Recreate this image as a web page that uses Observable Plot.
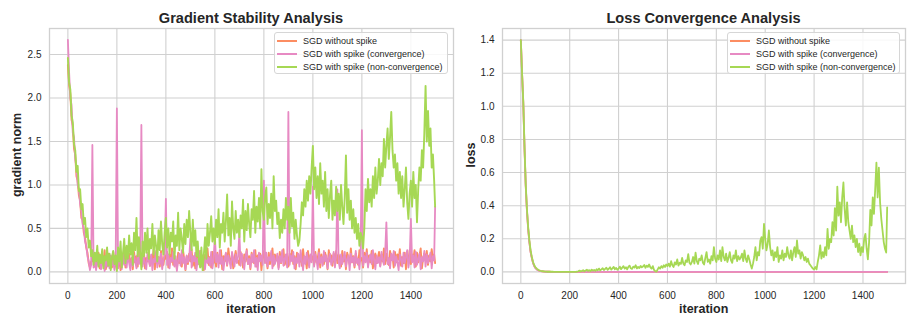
<!DOCTYPE html>
<html><head><meta charset="utf-8">
<script src="https://cdn.jsdelivr.net/npm/d3@7"></script>
<script src="https://cdn.jsdelivr.net/npm/@observablehq/plot@0.6"></script>
<style>
body{margin:0;background:#fff;font-family:"Liberation Sans",Arial,sans-serif;color:#262626}
#wrap{position:relative;width:917px;height:328px;overflow:hidden;background:#fff}
.abs{position:absolute;white-space:nowrap;line-height:1}
.title{font-weight:bold;font-size:14.6px;transform:translate(-50%,-50%)}
.xl{font-weight:bold;font-size:12.5px;transform:translate(-50%,-50%)}
.yl{font-weight:bold;font-size:12.5px;transform:translate(-50%,-50%) rotate(-90deg)}
.plot{position:absolute;top:20px}
.legend{position:absolute;border:1px solid #d6d6d6;border-radius:3px;background:rgba(255,255,255,0.85);font-size:9px;box-sizing:border-box;color:#262626}
.legend .sw{position:absolute;height:0;border-top-style:solid;border-top-width:2px}
.legend .tx{position:absolute;transform:translateY(-50%);white-space:nowrap;line-height:1}
</style></head>
<body>
<div id="wrap"></div>
<script>
// ---- data (iteration step 5, last point = iteration 1499) ----
const seriesNames = ["SGD without spike", "SGD with spike (convergence)", "SGD with spike (non-convergence)"];
const seriesColors = ["#fc8d62", "#e78ac3", "#a6d854"];
const xTicks = [0, 200, 400, 600, 800, 1000, 1200, 1400];
const gradTicks = [0, 0.5, 1, 1.5, 2, 2.5];
const lossTicks = [0, 0.2, 0.4, 0.6, 0.8, 1.0, 1.2, 1.4];

const gradNoSpike = [
2.38,2.15,2.05,1.75,1.68,1.42,1.35,1.1,1.05,.88,.82,.62,.6,.45,.4,.28,.22,.1,.05,.12,
.12,.2,.06,.17,.1,.22,.04,.15,.19,.08,.25,.03,.14,.21,.09,.18,.05,.23,.11,.16,
.07,.24,.13,.02,.19,.1,.26,.05,.17,.12,.21,.08,.15,.03,.23,.11,.18,.06,.27,.14,
.2,.09,.25,.04,.16,.12,.22,.07,.18,.14,.26,.03,.21,.1,.17,.06,.24,.13,.08,.19,
.15,.23,.05,.2,.11,.27,.08,.17,.13,.03,.22,.1,.19,.06,.25,.14,.02,.18,.09,.21,
.12,.26,.07,.18,.04,.21,.14,.09,.24,.11,.16,.02,.2,.13,.27,.08,.17,.05,.23,.1,
.19,.06,.22,.14,.1,.25,.03,.18,.12,.21,.07,.27,.15,.09,.2,.04,.16,.24,.11,.13,
.08,.23,.16,.05,.2,.12,.26,.09,.18,.03,.22,.14,.1,.25,.06,.19,.13,.21,.02,.17,
.24,.11,.17,.04,.22,.09,.15,.27,.07,.2,.13,.18,.05,.23,.1,.16,.26,.08,.14,.19,
.06,.21,.13,.25,.09,.18,.03,.22,.15,.11,.2,.07,.26,.12,.17,.04,.24,.1,.19,.14,
.18,.08,.23,.11,.16,.26,.05,.2,.13,.09,.22,.15,.03,.25,.12,.19,.07,.21,.1,.24,
.1,.2,.15,.06,.24,.12,.19,.03,.22,.16,.09,.27,.11,.18,.05,.21,.14,.08,.25,.13,
.16,.05,.22,.13,.26,.08,.19,.11,.24,.04,.17,.21,.1,.15,.23,.07,.2,.12,.27,.09,
.21,.12,.08,.24,.15,.18,.05,.23,.11,.2,.14,.26,.07,.17,.1,.22,.03,.19,.13,.25,
.09,.2,.14,.25,.06,.22,.11,.18,.27,.04,.16,.21,.13,.24,.08,.19,.12,.26,.15,.2,
.1];

const gradSpikeConv = [
2.67,2.3,2.0,1.92,1.6,1.55,1.3,1.2,1.0,.95,.78,.7,.55,.5,.35,.3,.18,.12,.02,.08,
1.46,.05,.15,.02,.12,.08,.18,.03,.1,.14,.01,.16,.06,.11,.04,.19,.07,.13,.02,.09,
1.88,.04,.12,.17,.03,.2,.08,.14,.05,.22,.1,.02,.16,.07,.19,.12,.04,.21,.09,.15,
1.69,.06,.18,.1,.03,.22,.13,.07,.2,.02,.15,.11,.24,.05,.17,.09,.21,.03,.14,.19,
.84,.08,.2,.04,.16,.12,.23,.06,.18,.01,.13,.21,.07,.25,.1,.17,.03,.19,.11,.15,
.38,.05,.18,.12,.22,.02,.15,.09,.24,.06,.19,.13,.03,.21,.1,.16,.07,.23,.04,.14,
.42,.11,.2,.05,.25,.09,.17,.02,.14,.22,.08,.19,.12,.04,.23,.15,.06,.2,.1,.18,
.45,.07,.21,.13,.03,.18,.24,.09,.15,.05,.2,.11,.25,.06,.16,.02,.22,.12,.19,.08,
1.05,.1,.22,.06,.17,.13,.24,.04,.19,.09,.14,.21,.03,.18,.11,.25,.07,.15,.2,.05,
1.84,.08,.19,.12,.23,.04,.16,.1,.21,.06,.25,.13,.02,.18,.09,.22,.15,.05,.2,.11,
.98,.06,.2,.14,.03,.22,.1,.17,.07,.24,.12,.19,.04,.16,.21,.08,.13,.23,.05,.18,
.95,.12,.04,.2,.09,.16,.23,.06,.14,.19,.02,.21,.11,.17,.07,.24,.1,.15,.03,.2,
1.63,.07,.18,.11,.22,.05,.15,.2,.09,.25,.13,.03,.19,.1,.17,.06,.23,.14,.08,.21,
.57,.09,.16,.04,.21,.13,.24,.07,.18,.11,.02,.2,.15,.06,.22,.1,.17,.25,.05,.14,
.61,.11,.19,.05,.23,.08,.15,.21,.03,.17,.12,.24,.06,.2,.1,.16,.22,.04,.18,.13,
.75];

const gradSpikeNonConv = [
2.46,2.18,2.1,1.8,1.72,1.47,1.4,1.15,1.22,.93,.95,.72,.78,.55,.62,.4,.5,.28,.36,.18,
.25,.08,.22,.12,.3,.06,.2,.1,.26,.04,.18,.13,.28,.07,.21,.02,.17,.24,.09,.19,
.01,.28,.12,.35,.05,.22,.38,.1,.3,.15,.42,.2,.33,.08,.45,.25,.62,.18,.4,.22,
.03,.35,.18,.45,.22,.5,.15,.38,.27,.55,.2,.42,.3,.12,.48,.25,.58,.32,.2,.45,
.62,.28,.5,.2,.45,.35,.58,.15,.42,.3,.68,.25,.5,.38,.22,.55,.32,.6,.4,.7,
.45,.25,.6,.3,.48,.18,.35,.12,.05,.28,.02,.2,.4,.15,.55,.3,.45,.64,.35,.5,
.32,.6,.4,.72,.28,.55,.45,.68,.35,.58,.89,.42,.62,.3,.81,.5,.38,.7,.45,.6,
.4,.65,.5,.83,.35,.7,.48,.78,.55,.4,.72,.6,.93,.45,.75,.58,.85,.5,1.18,.7,
.6,.85,.97,.55,.78,.62,.9,.5,1.1,.7,.82,.55,.68,.39,.6,.45,.72,.5,.85,.6,
.75,.45,.85,.52,.68,.38,.6,.42,.3,.36,.55,.8,.65,.95,.75,1.05,.82,1.1,.9,1.2,
1.45,.95,1.2,.85,1.1,.78,1.25,.9,1.05,.75,1.15,.7,.95,.62,.88,1.05,.6,.82,.65,.98,
.7,.9,.6,1.0,.75,.55,.85,1.34,.68,.95,.6,.82,.5,.72,.45,.62,.38,.55,.3,.45,
.4,.27,.5,.95,.7,1.07,.8,.95,.75,1.1,.85,1.2,.9,1.05,1.3,1.0,1.25,1.1,1.53,1.2,
1.45,1.65,1.3,1.55,1.84,1.4,1.2,1.35,1.05,1.25,.9,1.15,.85,1.1,.75,.95,1.2,.8,.61,.9,
1.05,.75,1.15,.85,1.0,.57,.95,1.2,1.05,1.4,1.2,1.6,2.14,1.5,1.85,1.45,1.65,1.2,1.35,1.05,
.75];

// loss: iterations 0..150 step 5, then 1499
const lossNoSpike = [1.4,1.2,1.02,.75,.52,.37,.26,.18,.12,.085,.055,.036,.024,.016,.011,.008,.006,.004,.003,.002,.002,.001,.001,.001,.001,0,0,0,0,0,0,0];
const lossSpikeConv = [1.4,1.2,1.02,.75,.52,.37,.26,.18,.12,.083,.053,.034,.022,.015,.01,.007,.005,.004,.003,.002,.001,.001,.001,.001,0,0,0,0,0,0,0,0];
const lossSpikeNonConv = [
1.4,1.2,1.03,.76,.53,.38,.27,.19,.13,.09,.06,.04,.028,.02,.014,.01,.007,.005,.004,.003,
.002,.002,.001,.001,.001,.001,.001,0,0,0,0,0,0,0,0,0,0,0,0,0,
0,0,0,0,0,0,.002,.004,.008,.003,.006,.01,.004,.009,.013,.006,.011,.005,.014,.008,
.012,.006,.016,.01,.02,.009,.015,.022,.011,.018,.025,.012,.019,.028,.014,.021,.03,.016,.024,.013,
.02,.032,.017,.026,.035,.02,.028,.015,.03,.038,.022,.018,.032,.026,.04,.021,.03,.024,.036,.028,
.033,.042,.025,.038,.03,.045,.028,.02,.035,.012,.005,.002,.015,.028,.02,.035,.025,.04,.03,.045,
.035,.05,.032,.065,.04,.03,.058,.045,.075,.038,.055,.048,.085,.05,.04,.07,.06,.107,.055,.045,
.06,.09,.05,.117,.065,.048,.08,.07,.1,.055,.045,.085,.12,.06,.075,.05,.095,.07,.15,.08,
.06,.1,.075,.13,.065,.15,.09,.07,.11,.06,.085,.12,.07,.055,.1,.08,.13,.065,.095,.075,
.087,.11,.065,.13,.08,.06,.1,.075,.045,.02,.05,.09,.15,.07,.12,.1,.19,.21,.14,.29,
.2,.13,.17,.25,.15,.1,.13,.07,.12,.09,.15,.06,.1,.08,.13,.07,.11,.09,.15,.1,
.08,.13,.07,.12,.15,.09,.19,.11,.13,.08,.12,.1,.07,.09,.06,.08,.05,.04,.03,.02,
.015,.03,.015,.06,.1,.16,.08,.12,.09,.15,.1,.26,.14,.2,.18,.3,.22,.385,.25,.515,
.34,.42,.3,.45,.54,.38,.28,.42,.3,.25,.2,.28,.18,.22,.15,.2,.12,.17,.1,.15,
.12,.2,.23,.14,.076,.18,.375,.28,.45,.35,.5,.66,.45,.63,.42,.32,.25,.18,.14,.117,
.39];

// ---- build ----
function rows(vals){ return vals.map((v,i)=>({iter: i === vals.length-1 ? 1499 : i*5, v})); }

const font = '"Liberation Sans", Arial, sans-serif';
function panel(opts){
  const {width, marginLeft, marginRight, yDomain, yTicks, series, widths} = opts;
  return Plot.plot({
    width, height: 308, marginTop: 8, marginBottom: 45, marginLeft, marginRight,
    style: {fontFamily: font, fontSize: "10px", color: "#262626", background: "transparent", overflow: "visible"},
    x: {domain: [-75, 1574]},
    y: {domain: yDomain},
    marks: [
      Plot.gridX(xTicks, {stroke: "#d0d0d0", strokeOpacity: 1, strokeWidth: 1.1}),
      Plot.gridY(yTicks, {stroke: "#d0d0d0", strokeOpacity: 1, strokeWidth: 1.1}),
      ...series.map((s,k)=>Plot.lineY(rows(s), {x: "iter", y: "v", stroke: seriesColors[k], strokeWidth: widths[k]})),
      Plot.frame({stroke: "#d0d0d0", strokeWidth: 1.3}),
      Plot.axisX(xTicks, {tickSize: 0, tickPadding: 8.5, tickFormat: d3.format("d"), label: null}),
      Plot.axisY(yTicks, {tickSize: 0, tickPadding: 8, tickFormat: d3.format(".1f"), label: null})
    ]
  });
}

const wrap = document.getElementById("wrap");
const left = panel({width: 460, marginLeft: 49, marginRight: 7, yDomain: [-0.134, 2.80], yTicks: gradTicks,
  series: [gradNoSpike, gradSpikeConv, gradSpikeNonConv], widths: [1.9, 1.8, 1.9]});
left.classList.add("plot"); left.style.left = "0px";
const right = panel({width: 457, marginLeft: 42, marginRight: 12, yDomain: [-0.07, 1.47], yTicks: lossTicks,
  series: [lossNoSpike, lossSpikeConv, lossSpikeNonConv], widths: [1.8, 1.8, 1.8]});
right.classList.add("plot"); right.style.left = "460px";
wrap.appendChild(left); wrap.appendChild(right);

function addText(cls, text, x, y){
  const d = document.createElement("div");
  d.className = "abs " + cls; d.textContent = text;
  d.style.left = x + "px"; d.style.top = y + "px";
  wrap.appendChild(d);
}
addText("title", "Gradient Stability Analysis", 251, 17.5);
addText("title", "Loss Convergence Analysis", 703.5, 17.5);
addText("xl", "iteration", 251, 309);
addText("xl", "iteration", 703.7, 309);
addText("yl", "gradient norm", 17, 155);
addText("yl", "loss", 470.5, 155);

function legend(x, y, w){
  const box = document.createElement("div");
  box.className = "legend";
  box.style.left = x + "px"; box.style.top = y + "px";
  box.style.width = w + "px"; box.style.height = "42px";
  seriesNames.forEach((name,k)=>{
    const sw = document.createElement("div");
    sw.className = "sw";
    sw.style.left = "2px"; sw.style.width = "20px";
    sw.style.top = (7 + k*13) + "px";
    sw.style.borderTopColor = seriesColors[k];
    box.appendChild(sw);
    const tx = document.createElement("div");
    tx.className = "tx"; tx.textContent = name;
    tx.style.left = "28px"; tx.style.top = (8 + k*13) + "px";
    box.appendChild(tx);
  });
  wrap.appendChild(box);
}
legend(274, 32, 174);
legend(727, 32, 173);
</script>
</body></html>
